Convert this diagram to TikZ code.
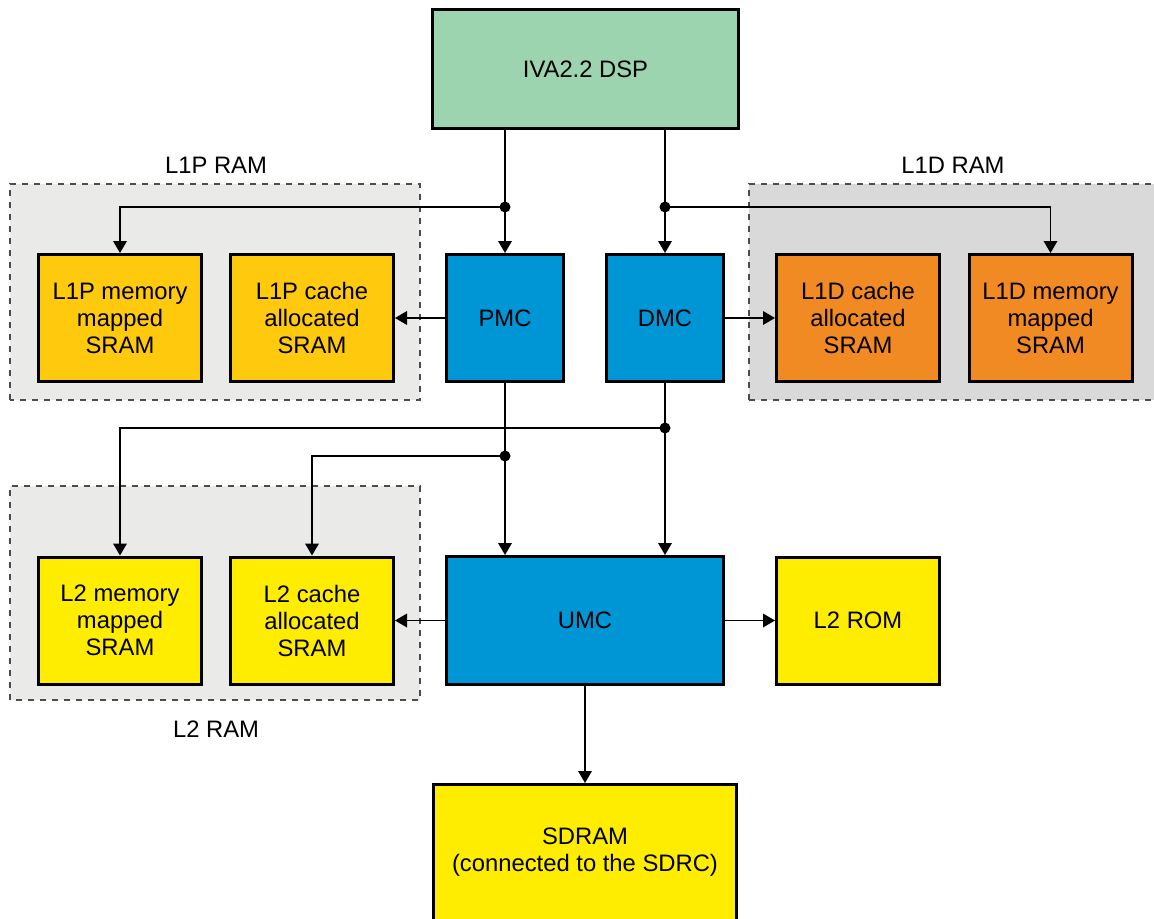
\documentclass[tikz,border=0pt]{standalone}
\usepackage{fontspec}
\setmainfont{Liberation Sans}
\usetikzlibrary{arrows.meta,positioning}
\definecolor{dspgreen}{HTML}{9DD4B0}
\definecolor{ctrlblue}{HTML}{0096D6}
\definecolor{lonep}{HTML}{FFC90E}
\definecolor{loned}{HTML}{F28A24}
\definecolor{ltwo}{HTML}{FFED00}
\definecolor{wash}{HTML}{EAEAE9}
\definecolor{washd}{HTML}{D9D9D9}

\begin{document}
\begin{tikzpicture}[x=0.5pt,y=0.5pt,
 box/.style={draw=black,line width=1.5pt,minimum width=81.5pt,minimum height=63.5pt,
 align=center,inner sep=2pt,font=\fontsize{11.9}{13.5}\selectfont},
 ctrl/.style={box,fill=ctrlblue,minimum width=58.5pt},
 arr/.style={-{Triangle[length=6pt,width=6.8pt]},line width=0.75pt},
 region/.style={draw=black!70,dashed,line width=0.6pt},
 lbl/.style={font=\fontsize{11.9}{13.5}\selectfont},
 dot/.style={circle,fill,inner sep=0pt,minimum size=5.5pt}]
\useasboundingbox (0,0) rectangle (1154,918);
% dashed RAM areas
\draw[region,fill=wash] (10,518) rectangle (420,734);
\draw[region,fill=washd] (749,518) rectangle (1160,734);
\draw[region,fill=wash] (10,218) rectangle (420,432);
\node[lbl] (l1plbl) at (216,753) {L1P RAM};
\node[lbl] (l1dlbl) at (953,753) {L1D RAM};
\node[lbl] (l2lbl) at (216,189) {L2 RAM};
% core and controllers
\node[box,fill=dspgreen,minimum width=153pt,minimum height=59.5pt] (dsp) at (585.5,849) {IVA2.2 DSP};
\node[ctrl] (pmc) at (505,600) {PMC};
\node[ctrl] (dmc) at (665,600) {DMC};
\node[box,fill=lonep,left=25pt of pmc] (l1pcache) {L1P cache\\allocated\\SRAM};
\node[box,fill=lonep,left=13pt of l1pcache] (l1pmem) {L1P memory\\mapped\\SRAM};
\node[box,fill=loned,right=25pt of dmc] (l1dcache) {L1D cache\\allocated\\SRAM};
\node[box,fill=loned,right=13.25pt of l1dcache] (l1dmem) {L1D memory\\mapped\\SRAM};
\node[ctrl,minimum width=138.5pt,minimum height=64pt] (umc) at (585,297.5) {UMC};
\node[box,fill=ltwo,left=25pt of umc] (l2cache) {L2 cache\\allocated\\SRAM};
\node[box,fill=ltwo,left=13pt of l2cache] (l2mem) {L2 memory\\mapped\\SRAM};
\node[box,fill=ltwo,right=25pt of umc] (l2rom) {L2 ROM};
\node[box,fill=ltwo,minimum width=151.5pt,minimum height=68pt,below=48.5pt of umc] (sdram) {SDRAM\\(connected to the SDRC)};
% junctions
\node[dot] (jp) at (505,711) {};
\node[dot] (jd) at (665,711) {};
\node[dot] (jd2) at (665,490) {};
\node[dot] (jp2) at (505,462) {};
\draw[arr] (dsp.south -| pmc.north)--(pmc.north);
\draw[arr] (dsp.south -| dmc.north)--(dmc.north);
\draw[arr] (jp.center) -| (l1pmem.north);
\draw[arr] (jd.center) -| (l1dmem.north);
\draw[arr] (pmc.west)--(l1pcache.east);
\draw[arr] (dmc.east)--(l1dcache.west);
\draw[arr] (pmc.south)--(pmc.south |- umc.north);
\draw[arr] (dmc.south)--(dmc.south |- umc.north);
\draw[arr] (jd2.center) -| (l2mem.north);
\draw[arr] (jp2.center) -| (l2cache.north);
\draw[arr] (umc.west)--(l2cache.east);
\draw[arr] (umc.east)--(l2rom.west);
\draw[arr] (umc.south)--(sdram.north);
\end{tikzpicture}
\end{document}
